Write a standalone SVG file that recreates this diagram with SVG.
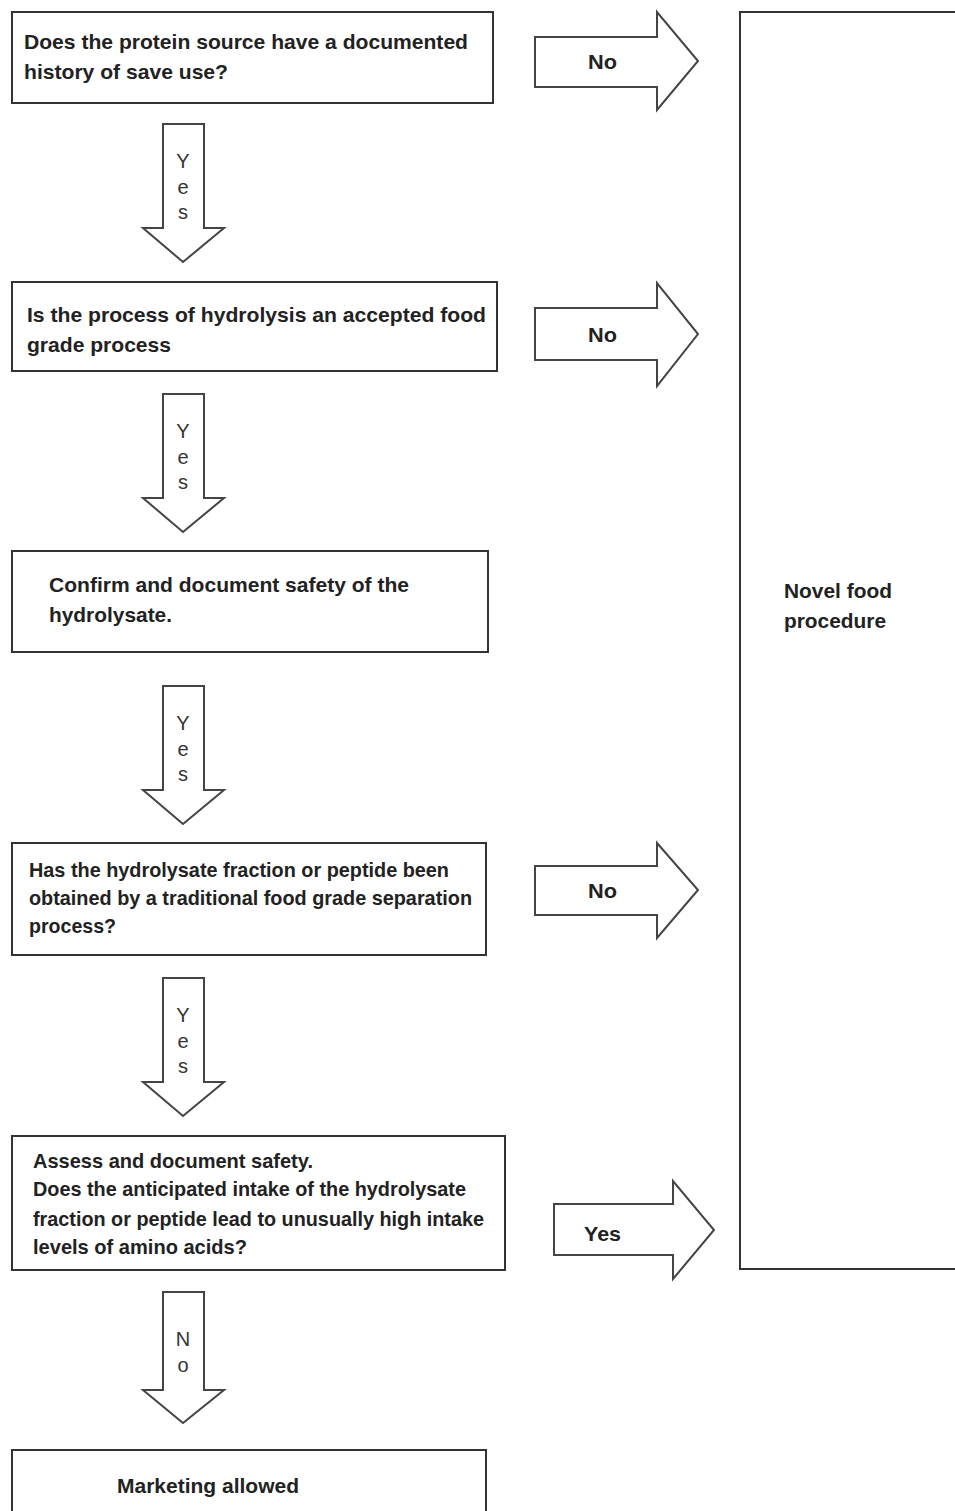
<svg xmlns="http://www.w3.org/2000/svg" width="955" height="1511" viewBox="0 0 955 1511">
<style>
.box{fill:#fff;stroke:#333;stroke-width:2}
.arr{fill:#fff;stroke:#444;stroke-width:2;stroke-linejoin:miter}
.t{font-family:"Liberation Sans",Arial,sans-serif;font-weight:bold;font-size:21px;fill:#222}
.v{font-family:"Liberation Sans",Arial,sans-serif;font-size:20px;fill:#333;text-anchor:middle}
</style>
<rect width="955" height="1511" fill="#fff"/>
<g id="connectors">
  <path class="arr" d="M163,124 H204 V228 H224 L183,262 L143,228 H163 Z"/>
  <text class="v" x="183" y="168">Y</text><text class="v" x="183" y="194">e</text><text class="v" x="183" y="219">s</text>
  <path class="arr" d="M163,394 H204 V498 H224 L183,532 L143,498 H163 Z"/>
  <text class="v" x="183" y="438">Y</text><text class="v" x="183" y="464">e</text><text class="v" x="183" y="489">s</text>
  <path class="arr" d="M163,686 H204 V790 H224 L183,824 L143,790 H163 Z"/>
  <text class="v" x="183" y="730">Y</text><text class="v" x="183" y="756">e</text><text class="v" x="183" y="781">s</text>
  <path class="arr" d="M163,978 H204 V1082 H224 L183,1116 L143,1082 H163 Z"/>
  <text class="v" x="183" y="1022">Y</text><text class="v" x="183" y="1048">e</text><text class="v" x="183" y="1073">s</text>
  <path class="arr" d="M163,1292 H204 V1390 H224 L183,1423 L143,1390 H163 Z"/>
  <text class="v" x="183" y="1346">N</text><text class="v" x="183" y="1372">o</text>
  <path class="arr" d="M535,37 H657 V12 L698,61 L657,110 V87 H535 Z"/>
  <text class="t" x="588" y="69" textLength="29" lengthAdjust="spacingAndGlyphs">No</text>
  <path class="arr" d="M535,308 H657 V283 L698,334 L657,386 V360 H535 Z"/>
  <text class="t" x="588" y="342" textLength="29" lengthAdjust="spacingAndGlyphs">No</text>
  <path class="arr" d="M535,866 H657 V843 L698,890 L657,938 V915 H535 Z"/>
  <text class="t" x="588" y="898" textLength="29" lengthAdjust="spacingAndGlyphs">No</text>
  <path class="arr" d="M554,1204 H673 V1181 L714,1230 L673,1279 V1255 H554 Z"/>
  <text class="t" x="584" y="1241" textLength="37" lengthAdjust="spacingAndGlyphs">Yes</text>
</g>
<g id="n1">
  <rect class="box" x="12" y="12" width="481" height="91"/>
  <text class="t" x="24" y="49" textLength="444" lengthAdjust="spacingAndGlyphs">Does the protein source have a documented</text>
  <text class="t" x="24" y="79" textLength="204" lengthAdjust="spacingAndGlyphs">history of save use?</text>
</g>
<g id="n2">
  <rect class="box" x="12" y="282" width="485" height="89"/>
  <text class="t" x="27" y="322" textLength="459" lengthAdjust="spacingAndGlyphs">Is the process of hydrolysis an accepted food</text>
  <text class="t" x="27" y="352" textLength="144" lengthAdjust="spacingAndGlyphs">grade process</text>
</g>
<g id="n3">
  <rect class="box" x="12" y="551" width="476" height="101"/>
  <text class="t" x="49" y="592" textLength="360" lengthAdjust="spacingAndGlyphs">Confirm and document safety of the</text>
  <text class="t" x="49" y="622" textLength="123" lengthAdjust="spacingAndGlyphs">hydrolysate.</text>
</g>
<g id="n4">
  <rect class="box" x="12" y="843" width="474" height="112"/>
  <text class="t" x="29" y="877" textLength="420" lengthAdjust="spacingAndGlyphs">Has the hydrolysate fraction or peptide been</text>
  <text class="t" x="29" y="905" textLength="443" lengthAdjust="spacingAndGlyphs">obtained by a traditional food grade separation</text>
  <text class="t" x="29" y="933" textLength="87" lengthAdjust="spacingAndGlyphs">process?</text>
</g>
<g id="n5">
  <rect class="box" x="12" y="1136" width="493" height="134"/>
  <text class="t" x="33" y="1168" textLength="280" lengthAdjust="spacingAndGlyphs">Assess and document safety.</text>
  <text class="t" x="33" y="1196" textLength="433" lengthAdjust="spacingAndGlyphs">Does the anticipated intake of the hydrolysate</text>
  <text class="t" x="33" y="1226" textLength="451" lengthAdjust="spacingAndGlyphs">fraction or peptide lead to unusually high intake</text>
  <text class="t" x="33" y="1254" textLength="214" lengthAdjust="spacingAndGlyphs">levels of amino acids?</text>
</g>
<g id="n6">
  <rect class="box" x="12" y="1450" width="474" height="80"/>
  <text class="t" x="117" y="1493" textLength="182" lengthAdjust="spacingAndGlyphs">Marketing allowed</text>
</g>
<g id="n7">
  <rect class="box" x="740" y="12" width="240" height="1257"/>
  <text class="t" x="784" y="598" textLength="108" lengthAdjust="spacingAndGlyphs">Novel food</text>
  <text class="t" x="784" y="628" textLength="102" lengthAdjust="spacingAndGlyphs">procedure</text>
</g>
</svg>
